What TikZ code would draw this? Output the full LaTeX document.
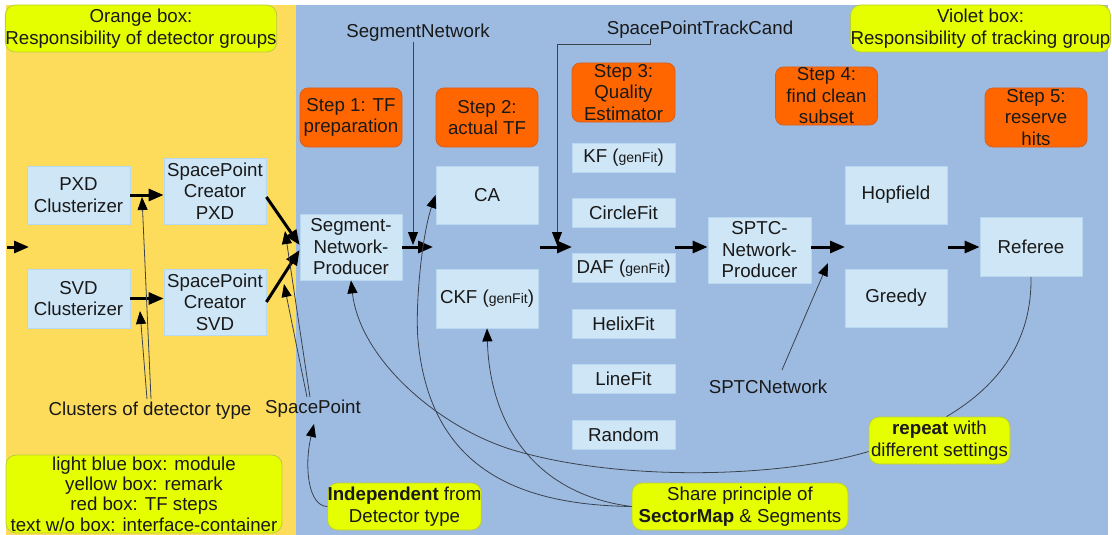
\documentclass[tikz,border=0pt]{standalone}
\usepackage{fontspec}
\setmainfont{Liberation Sans}
\usetikzlibrary{arrows.meta}
\definecolor{orangebg}{RGB}{253,220,92}
\definecolor{bluebg}{RGB}{157,187,224}
\definecolor{modfill}{RGB}{207,230,246}
\definecolor{modline}{RGB}{184,216,242}
\definecolor{notefill}{RGB}{230,255,0}
\definecolor{noteline}{RGB}{185,205,60}
\definecolor{stepfill}{RGB}{255,102,0}
\definecolor{stepline}{RGB}{215,95,30}
\definecolor{txt}{RGB}{25,25,25}
\definecolor{thinc}{RGB}{58,66,78}
\newcommand{\gf}{{\fontsize{14}{14}\selectfont genFit}}
\begin{document}
\begin{tikzpicture}[x=1pt,y=-1pt,
  box/.style={rectangle, inner sep=0pt, align=center, text=txt, font=\fontsize{18.7}{21.5}\selectfont},
  module/.style={box, fill=modfill, draw=modline, line width=0.8pt},
  stepbox/.style={box, fill=stepfill, draw=stepline, line width=0.8pt, rounded corners=8pt},
  note/.style={box, fill=notefill, draw=noteline, line width=0.8pt, rounded corners=10pt},
  lbl/.style={box},
  flow/.style={line width=3pt, black, -{Triangle[length=15pt,width=12pt]}},
  thinarrow/.style={line width=0.8pt, thinc, -{Triangle[length=13pt,width=10pt,fill=black,color=black]}},
  thinline/.style={line width=0.8pt, thinc}]
\useasboundingbox (0,0) rectangle (1112,535);
\fill[orangebg] (6,5) rectangle (296,535);
\fill[bluebg] (296,5) rectangle (1108,535);

% notes
\node[note, minimum width=270pt, minimum height=47pt] (norange) at (141,28.5) {Orange box:\\Responsibility of detector groups};
\node[note, minimum width=257pt, minimum height=47pt] (nviolet) at (980.5,28.5) {Violet box:\\Responsibility of tracking group};
\node[note, minimum width=276pt, minimum height=78pt, font=\fontsize{18.7}{20.4}\selectfont] (legend) at (144,494) {light blue box: module\\yellow box: remark\\red box: TF steps\\text w/o box: interface-container};
\node[note, minimum width=151pt, minimum height=47pt] (indep) at (404.5,506.5) {\textbf{Independent} from\\Detector type};
\node[note, minimum width=216pt, minimum height=47pt] (share) at (740,506.5) {Share principle of\\\textbf{SectorMap} \& Segments};
\node[note, minimum width=141pt, minimum height=47pt] (rep) at (939.5,440.5) {\textbf{repeat} with\\different settings};

% steps
\node[stepbox, minimum width=102pt, minimum height=59pt] (s1) at (351,117.5) {Step 1: TF\\preparation};
\node[stepbox, minimum width=102pt, minimum height=59pt] (s2) at (487,117.5) {Step 2:\\actual TF};
\node[stepbox, minimum width=103pt, minimum height=59pt] (s3) at (623.5,92.5) {Step 3:\\Quality\\Estimator};
\node[stepbox, minimum width=102pt, minimum height=58pt] (s4) at (826.5,96) {Step 4:\\find clean\\subset};
\node[stepbox, minimum width=102pt, minimum height=59pt] (s5) at (1036,117.5) {Step 5:\\reserve\\hits};

% modules
\node[module, minimum width=103pt, minimum height=58pt] (pxdc) at (78.5,195) {PXD\\Clusterizer};
\node[module, minimum width=103pt, minimum height=59pt] (svdc) at (78.5,298.5) {SVD\\Clusterizer};
\node[module, minimum width=102pt, minimum height=66pt] (spcp) at (215,191) {SpacePoint\\Creator\\PXD};
\node[module, minimum width=102pt, minimum height=66pt] (spcs) at (215,302) {SpacePoint\\Creator\\SVD};
\node[module, minimum width=102pt, minimum height=66pt] (snp) at (351,247) {Segment-\\Network-\\Producer};
\node[module, minimum width=102pt, minimum height=58pt] (ca) at (487,195) {CA};
\node[module, minimum width=102pt, minimum height=59pt] (ckf) at (487,298.5) {CKF (\gf)};
\node[module, minimum width=103pt, minimum height=29pt] (kf) at (623.5,157.5) {KF (\gf)};
\node[module, minimum width=103pt, minimum height=29pt] (circ) at (623.5,212.9) {CircleFit};
\node[module, minimum width=103pt, minimum height=29pt] (daf) at (623.5,268.3) {DAF (\gf)};
\node[module, minimum width=103pt, minimum height=29pt] (helix) at (623.5,323.7) {HelixFit};
\node[module, minimum width=103pt, minimum height=29pt] (linefit) at (623.5,379.1) {LineFit};
\node[module, minimum width=103pt, minimum height=29pt] (rand) at (623.5,434.5) {Random};
\node[module, minimum width=103pt, minimum height=66pt] (sptc) at (759.5,250) {SPTC-\\Network-\\Producer};
\node[module, minimum width=102pt, minimum height=58pt] (hop) at (896,195) {Hopfield};
\node[module, minimum width=102pt, minimum height=58pt] (greedy) at (896,298) {Greedy};
\node[module, minimum width=102pt, minimum height=59pt] (ref) at (1031,247) {Referee};

% labels
\node[lbl] (lsn) at (418,33) {SegmentNetwork};
\node[lbl] (lsptc) at (700,30) {SpacePointTrackCand};
\node[lbl] (lclu) at (150,411) {Clusters of detector type};
\node[lbl] (lsp) at (313,409) {SpacePoint};
\node[lbl] (lsptcn) at (768,387) {SPTCNetwork};

% junction coordinates
\coordinate (in0) at (7,247);
\coordinate (in1) at (29,247);
\coordinate (j1) at (433,247);
\coordinate (j2s) at (540,247);
\coordinate (j2) at (572,247);
\coordinate (j3s) at (675,247);
\coordinate (j4) at (845,247);
\coordinate (j5s) at (948,247);
\coordinate (snIn) at (413,245);
\coordinate (spIn) at (557,245);
\coordinate (cluA) at (142,197);
\coordinate (cluB) at (140,311);
\coordinate (spA) at (285,231);
\coordinate (spB) at (284,284);
\coordinate (netIn) at (828,263);

% thick flow arrows
\draw[flow] (in0) -- (in1);
\draw[flow] (pxdc.east) -- (spcp.west |- pxdc.east);
\draw[flow] (svdc.east) -- (spcs.west |- svdc.east);
\draw[flow] ([yshift=-6pt]spcp.east) -- ([yshift=2pt]snp.west);
\draw[flow] (spcs.east) -- ([yshift=-3pt]snp.west);
\draw[flow] (snp.east) -- (j1);
\draw[flow] (j2s) -- (j2);
\draw[flow] (j3s) -- (sptc.west |- j3s);
\draw[flow] (sptc.east |- j4) -- (j4);
\draw[flow] (j5s) -- (ref.west);

% thin connectors
\draw[thinarrow] (lsn.south -| snIn) -- (snIn);
\draw[thinarrow] ([xshift=-50pt]lsptc.south) |- (spIn |- 0,44) -- (spIn);
\draw[thinarrow] ([xshift=1pt,yshift=3pt]lclu.north) -- (cluA);
\draw[thinarrow] ([xshift=-3pt,yshift=3pt]lclu.north) -- (cluB);
\draw[thinarrow] ([xshift=-3pt,yshift=3pt]lsp.north) -- (spA);
\draw[thinarrow] ([xshift=-6pt,yshift=3pt]lsp.north) -- (spB);
\draw[thinarrow] (indep.west) .. controls (308,506) and (304,466) .. ([xshift=1pt,yshift=-6pt]lsp.south);
\draw[thinarrow] ([xshift=14pt,yshift=10pt]lsptcn.north) -- (netIn);
\draw[thinline] (ref.south) .. controls (1032,340) and (1000,385) .. ([xshift=7pt]rep.north);
\draw[thinarrow] ([yshift=-11pt]rep.west) .. controls (780,478) and (620,482) .. (513,450) .. controls (440,428) and (360,360) .. (snp.south);
\draw[thinarrow] (share.west) .. controls (520,505) and (430,470) .. (418,340) .. controls (415,305) and (422,235) .. (ca.west);
\draw[thinarrow] (share.west) .. controls (540,495) and (490,430) .. (ckf.south);
\end{tikzpicture}
\end{document}
